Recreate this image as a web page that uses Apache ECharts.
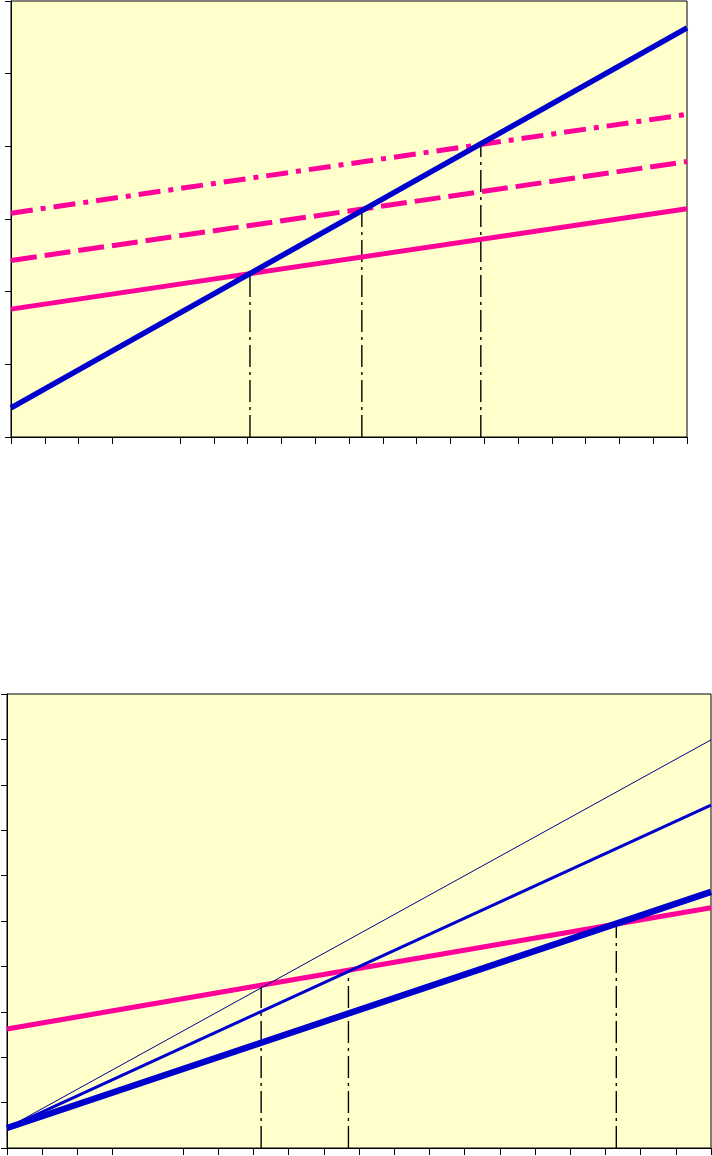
<!DOCTYPE html>
<html>
<head>
<meta charset="utf-8">
<script src="https://cdn.jsdelivr.net/npm/echarts@6/dist/echarts.min.js"></script>
<style>
html,body{margin:0;padding:0;background:#fff;}
#c{width:712px;height:1156px;}
</style>
</head>
<body>
<div id="c"></div>
<script>
// ---- Data ----
var xTicks = ["0","1","2","3","4","5","6","7","8","9","10","11","12","13","14","15","16","17","18","19","20"];
var xEnds = [0, 20];

// Top chart
var topBlue = [0.40, 5.63];
var topPinkSolid = [1.76, 3.14];
var topPinkDashed = [2.43, 3.79];
var topPinkDashDot = [3.08, 4.44];
var topCrossX = [7.07, 10.38, 13.90];
var topCrossY = [2.23, 3.14, 4.04];

// Bottom chart
var botPink = [2.62, 5.29];
var botBlueThin = [0.44, 8.99];
var botBlueMed = [0.44, 7.55];
var botBlueThick = [0.44, 5.64];
var botCrossX = [7.22, 9.70, 17.31];
var botCrossY = [3.56, 3.90, 4.93];

// ---- Styling ----
var BG = '#FFFFCC';
var PINK = '#FF0099';
var BLUE = '#0000CC';
var NAVY = '#00008B';
var DASHDOT = [22, 5, 3, 5];

function lineSeries(vals, gi, color, width, type, z) {
  return {
    type: 'line', xAxisIndex: gi * 2, yAxisIndex: gi,
    data: [[xEnds[0], vals[0]], [xEnds[1], vals[1]]],
    showSymbol: false, symbol: 'none', silent: true, animation: false,
    lineStyle: { color: color, width: width, type: type || 'solid', cap: 'butt' },
    z: z || 3
  };
}
function dropSeries(xs, ys, gi) {
  return xs.map(function (x, i) {
    return {
      type: 'line', xAxisIndex: gi * 2, yAxisIndex: gi,
      data: [[x, 0], [x, ys[i]]],
      showSymbol: false, symbol: 'none', silent: true, animation: false,
      lineStyle: { color: '#000', width: 1.4, type: DASHDOT },
      z: 2
    };
  });
}
function valueX(gi) {
  return {
    gridIndex: gi, type: 'value', min: 0, max: 20, interval: 1,
    axisLine: { show: true, onZero: false, lineStyle: { color: '#000', width: 1 } },
    axisTick: { show: false }, axisLabel: { show: false }, splitLine: { show: false }
  };
}
function tickX(gi) {
  return {
    gridIndex: gi, type: 'category', data: xTicks, boundaryGap: false, position: 'bottom',
    axisLine: { show: false },
    axisTick: { show: true, inside: false, length: 7, interval: function (i) { return i !== 4; },
      lineStyle: { color: '#000', width: 1 } },
    axisLabel: { show: false }, splitLine: { show: false }
  };
}
function valueY(gi, max) {
  return {
    gridIndex: gi, type: 'value', min: 0, max: max, interval: 1,
    axisLine: { show: true, onZero: false, lineStyle: { color: '#000', width: 1 } },
    axisTick: { show: true, inside: false, length: 6, lineStyle: { color: '#000', width: 1 } },
    axisLabel: { show: false }, splitLine: { show: false }
  };
}

var chart = echarts.init(document.getElementById('c'), null, { renderer: 'canvas' });
var series = [
  lineSeries(topPinkSolid, 0, PINK, 5, 'solid'),
  lineSeries(topPinkDashed, 0, PINK, 5, [26, 8]),
  lineSeries(topPinkDashDot, 0, PINK, 5, [22, 8, 5, 8]),
  lineSeries(topBlue, 0, BLUE, 5.5, 'solid', 4),
  lineSeries(botPink, 1, PINK, 5, 'solid'),
  lineSeries(botBlueThin, 1, NAVY, 1, 'solid', 4),
  lineSeries(botBlueMed, 1, BLUE, 3, 'solid', 4),
  lineSeries(botBlueThick, 1, BLUE, 6.5, 'solid', 4)
].concat(dropSeries(topCrossX, topCrossY, 0)).concat(dropSeries(botCrossX, botCrossY, 1));

chart.setOption({
  animation: false,
  backgroundColor: '#fff',
  grid: [
    { left: 11, top: 1, width: 676, height: 436, show: true, backgroundColor: BG, borderColor: '#000', borderWidth: 1 },
    { left: 7, top: 694, width: 704, height: 454, show: true, backgroundColor: BG, borderColor: '#000', borderWidth: 1 }
  ],
  xAxis: [valueX(0), tickX(0), valueX(1), tickX(1)],
  yAxis: [valueY(0, 6), valueY(1, 10)],
  series: series
});
</script>
</body>
</html>
